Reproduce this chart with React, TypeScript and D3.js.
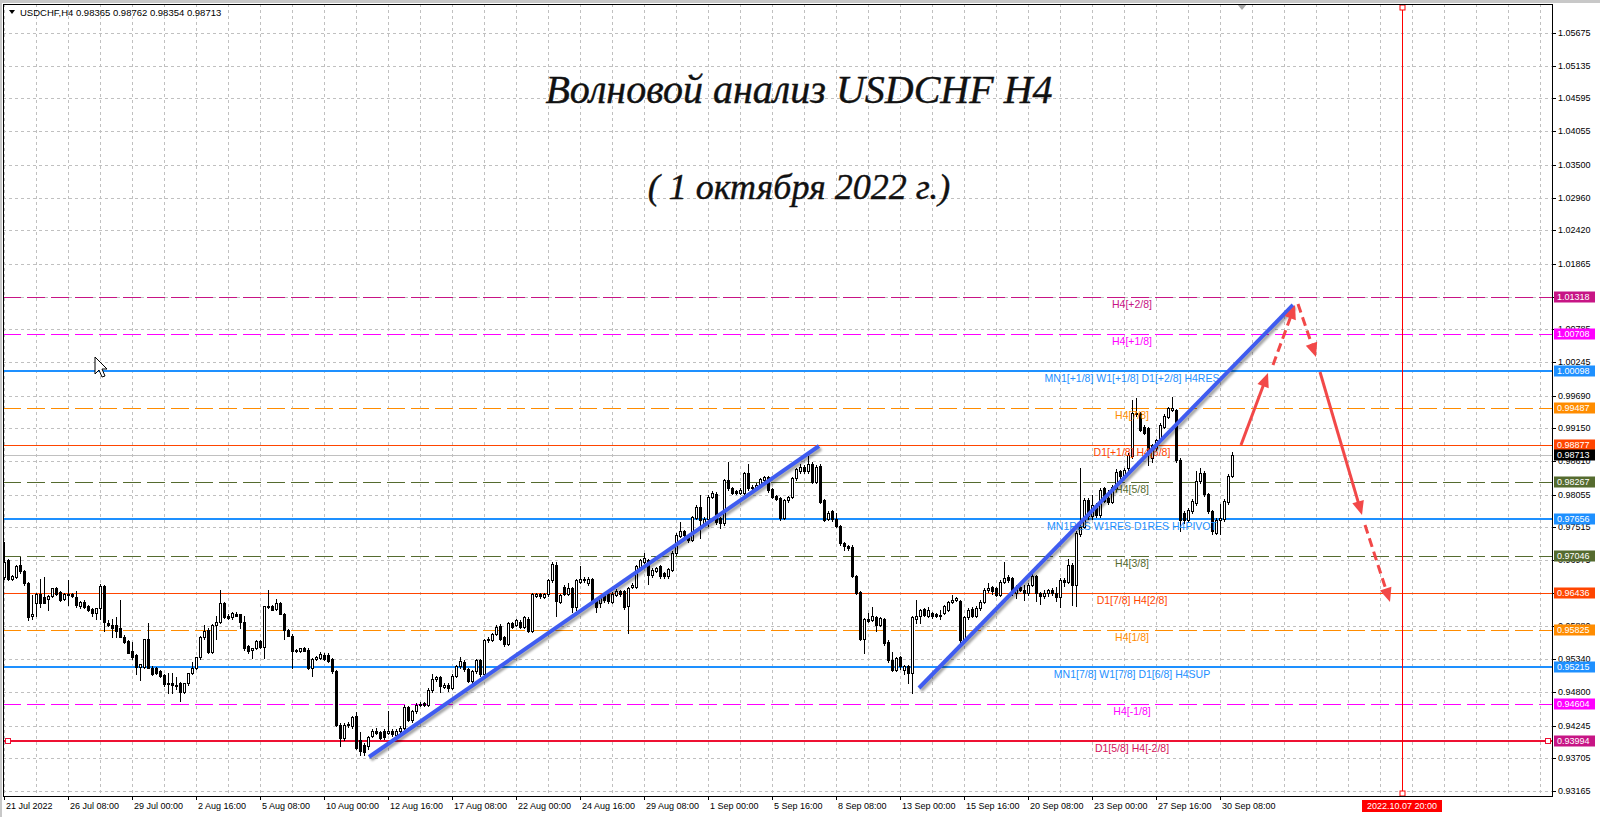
import React from "react";
import * as d3 from "d3";

// ---- Candle data (price x 10000), H4 bars from 21 Jul 2022 16:00 to 30 Sep 2022 20:00
const opens = [
9670,9697,9666,9670,9690,9680,9660,9605,9627,9642,9636,9634,9638,9651,9645,9634,9640,9641,9636,9621,
9629,9622,9617,9610,9618,9655,9594,9591,9590,9586,9571,9564,9547,9541,9521,9521,9567,9520,9519,9515,
9508,9494,9495,9490,9494,9480,9494,9512,9520,9537,9570,9583,9546,9591,9595,9626,9606,9603,9609,9608,
9596,9555,9549,9553,9564,9554,9621,9622,9617,9627,9609,9582,9573,9549,9548,9552,9550,9520,9534,9536,
9541,9541,9534,9515,9426,9404,9426,9423,9441,9400,9393,9390,9407,9416,9414,9416,9412,9415,9409,9415,
9420,9455,9434,9448,9460,9462,9459,9483,9501,9504,9488,9492,9487,9507,9522,9530,9518,9498,9515,9532,
9509,9565,9566,9576,9588,9570,9559,9593,9591,9595,9587,9600,9581,9638,9642,9637,9641,9664,9690,9629,
9654,9642,9652,9620,9662,9667,9659,9666,9631,9626,9640,9642,9629,9640,9646,9647,9621,9654,9654,9687,
9695,9698,9673,9680,9688,9676,9671,9682,9709,9737,9745,9739,9731,9767,9786,9756,9765,9802,9807,9767,
9758,9830,9816,9811,9808,9808,9841,9819,9816,9822,9830,9834,9815,9803,9800,9767,9796,9802,9833,9844,
9852,9844,9857,9827,9853,9796,9765,9779,9765,9754,9726,9721,9720,9671,9645,9568,9601,9599,9603,9590,
9600,9563,9533,9516,9538,9517,9522,9511,9600,9606,9617,9605,9610,9608,9605,9610,9616,9628,9632,9630,
9566,9603,9617,9606,9618,9629,9648,9653,9651,9640,9662,9670,9668,9643,9654,9649,9643,9657,9671,9643,
9638,9643,9649,9643,9637,9665,9661,9690,9657,9740,9753,9797,9770,9789,9772,9816,9800,9794,9815,9844,
9838,9849,9869,9938,9940,9918,9916,9866,9883,9895,9918,9934,9946,9945,9863,9775,9764,9778,9792,9828,
9841,9806,9778,9742,9764,9765,9794,9836.5
];
const highs = [
9727,9700,9673,9690,9703,9682,9661,9640,9643,9667,9669,9640,9652,9653,9646,9643,9664,9643,9646,9630,
9631,9624,9619,9619,9658,9657,9598,9601,9604,9632,9574,9566,9562,9543,9526,9568,9593,9522,9521,9517,
9510,9512,9512,9504,9496,9494,9512,9529,9538,9572,9591,9585,9592,9606,9649,9628,9608,9612,9612,9609,
9605,9557,9552,9565,9566,9622,9648,9623,9634,9629,9611,9584,9575,9551,9553,9554,9552,9536,9540,9546,
9545,9544,9536,9517,9428,9428,9430,9441,9447,9414,9395,9407,9418,9420,9416,9418,9448,9418,9418,9424,
9458,9457,9450,9462,9463,9464,9486,9510,9507,9506,9494,9494,9509,9524,9538,9532,9520,9517,9535,9534,
9568,9571,9578,9590,9592,9572,9595,9596,9600,9598,9606,9603,9644,9644,9644,9643,9667,9694,9694,9642,
9656,9660,9654,9667,9688,9669,9670,9668,9633,9639,9642,9646,9645,9650,9649,9649,9653,9660,9690,9700,
9709,9700,9684,9687,9690,9678,9685,9712,9742,9760,9747,9741,9771,9788,9805,9768,9805,9812,9810,9769,
9831,9860,9818,9813,9816,9843,9856,9821,9824,9833,9836,9836,9817,9805,9802,9799,9804,9835,9850,9856,
9854,9869,9859,9854,9856,9798,9778,9781,9776,9756,9728,9723,9722,9673,9647,9602,9610,9620,9605,9604,
9602,9565,9546,9538,9540,9525,9524,9606,9632,9617,9619,9620,9612,9610,9615,9623,9630,9640,9637,9632,
9605,9618,9620,9622,9632,9652,9660,9655,9653,9664,9695,9673,9670,9656,9660,9657,9660,9679,9673,9645,
9648,9650,9651,9654,9668,9668,9700,9692,9745,9850,9800,9800,9805,9791,9817,9818,9814,9822,9848,9846,
9850,9875,9962,9965,9942,9920,9918,9890,9898,9924,9938,9951,9967,9947,9866,9778,9784,9798,9845,9850,
9845,9808,9780,9767,9790,9798,9840,9876.2
];
const lows = [
9666,9664,9664,9668,9677,9657,9598,9601,9606,9620,9630,9615,9636,9640,9630,9632,9623,9637,9620,9618,
9618,9614,9606,9601,9601,9581,9588,9570,9570,9570,9561,9544,9535,9509,9500,9519,9519,9508,9510,9505,
9490,9479,9479,9485,9465,9478,9492,9510,9518,9535,9568,9545,9544,9567,9593,9602,9600,9601,9605,9585,
9550,9545,9536,9551,9553,9536,9619,9615,9615,9608,9567,9572,9520,9546,9546,9547,9518,9507,9532,9534,
9532,9529,9512,9424,9390,9400,9422,9420,9385,9376,9376,9385,9405,9410,9402,9403,9410,9408,9407,9413,
9418,9432,9430,9446,9456,9457,9457,9480,9498,9480,9486,9482,9485,9505,9520,9514,9496,9494,9512,9506,
9506,9562,9564,9574,9565,9556,9557,9585,9589,9585,9585,9579,9579,9636,9635,9635,9639,9662,9605,9626,
9640,9640,9612,9616,9660,9662,9657,9628,9612,9620,9628,9627,9627,9638,9639,9617,9577,9651,9652,9685,
9693,9658,9670,9678,9668,9668,9668,9679,9706,9735,9736,9728,9729,9765,9734,9754,9754,9800,9757,9750,
9756,9814,9806,9806,9806,9806,9814,9813,9814,9820,9828,9810,9800,9796,9764,9765,9794,9800,9830,9842,
9842,9842,9825,9825,9792,9762,9763,9762,9752,9723,9715,9715,9669,9641,9566,9544,9595,9597,9580,9588,
9558,9530,9514,9514,9518,9510,9494,9478,9594,9594,9605,9603,9602,9603,9600,9608,9614,9626,9630,9555,
9563,9601,9603,9604,9615,9627,9645,9642,9638,9638,9660,9662,9640,9635,9646,9632,9640,9655,9630,9625,
9635,9638,9640,9630,9620,9655,9659,9623,9621,9738,9750,9766,9766,9768,9769,9793,9790,9792,9812,9833,
9836,9847,9866,9936,9910,9905,9855,9860,9880,9893,9916,9932,9943,9860,9745,9758,9760,9775,9789,9825,
9803,9775,9740,9740,9740,9762,9790,9835.4
];
const closes = [
9695,9666,9671,9688,9679,9659,9604,9609,9641,9627,9627,9638,9651,9642,9632,9642,9641,9638,9623,9629,
9620,9615,9610,9619,9655,9596,9591,9585,9580,9571,9562,9545,9537,9521,9526,9567,9520,9510,9512,9507,
9493,9493,9491,9491,9480,9494,9512,9520,9537,9571,9581,9546,9591,9595,9626,9604,9602,9610,9606,9596,
9553,9548,9552,9564,9554,9621,9622,9616,9626,9609,9582,9573,9548,9548,9553,9548,9520,9534,9537,9543,
9534,9531,9515,9426,9404,9426,9427,9438,9387,9382,9381,9405,9415,9412,9404,9405,9416,9410,9416,9421,
9455,9434,9448,9459,9459,9459,9484,9501,9504,9490,9492,9487,9507,9522,9531,9518,9498,9515,9532,9509,
9565,9568,9576,9587,9568,9559,9593,9587,9598,9587,9603,9581,9642,9642,9638,9641,9665,9691,9630,9640,
9642,9652,9620,9665,9667,9665,9666,9630,9620,9637,9631,9630,9642,9646,9641,9620,9651,9657,9688,9698,
9701,9673,9682,9684,9671,9671,9683,9709,9739,9745,9739,9731,9768,9785,9764,9765,9802,9808,9760,9758,
9829,9816,9808,9808,9813,9841,9816,9816,9822,9831,9834,9813,9802,9798,9767,9797,9802,9833,9848,9852,
9844,9857,9827,9852,9794,9764,9776,9765,9754,9725,9721,9717,9671,9643,9568,9600,9597,9605,9590,9602,
9560,9533,9516,9536,9522,9522,9511,9604,9606,9615,9607,9615,9605,9606,9607,9621,9628,9632,9635,9566,
9603,9616,9606,9618,9629,9649,9652,9646,9640,9662,9668,9665,9643,9654,9649,9643,9657,9671,9643,9638,
9643,9648,9643,9637,9665,9661,9690,9657,9742,9753,9797,9770,9789,9772,9814,9795,9794,9819,9843,9836,
9847,9871,9940,9940,9913,9907,9874,9888,9896,9921,9935,9949,9949,9863,9764,9764,9781,9795,9828,9842,
9806,9778,9745,9764,9767,9795,9836,9871.3
];

// ---- Axis labels
const dateLabels = [
  "21 Jul 2022", "26 Jul 08:00", "29 Jul 00:00", "2 Aug 16:00", "5 Aug 08:00",
  "10 Aug 00:00", "12 Aug 16:00", "17 Aug 08:00", "22 Aug 00:00", "24 Aug 16:00",
  "29 Aug 08:00", "1 Sep 00:00", "5 Sep 16:00", "8 Sep 08:00", "13 Sep 00:00",
  "15 Sep 16:00", "20 Sep 08:00", "23 Sep 00:00", "27 Sep 16:00", "30 Sep 08:00",
];
const dateLabelStep = 16;
const gridStep = 8;

// grid lines (every price step) and the labels that stay visible next to the level boxes
const priceTicks = [
  1.05675, 1.05135, 1.04595, 1.04055, 1.035, 1.0296, 1.0242, 1.01865, 1.01325, 1.00785,
  1.00245, 0.9969, 0.9915, 0.9861, 0.98055, 0.97515, 0.96975, 0.96435, 0.9588, 0.9534,
  0.948, 0.94245, 0.93705, 0.93165,
];
const hiddenTickLabels = [1.01325, 0.96435];

// ---- Murrey levels
const levelPrices = [1.01318, 1.00708, 1.00098, 0.99487, 0.98877, 0.98267, 0.97656, 0.97046, 0.96436, 0.95825, 0.95215, 0.94604, 0.93994];
const levelNames = [
  "H4[+2/8]", "H4[+1/8]", "MN1[+1/8] W1[+1/8] D1[+2/8] H4RES", "H4[7/8]", "D1[+1/8] H4[6/8]",
  "H4[5/8]", "MN1RES W1RES D1RES H4PIVOT", "H4[3/8]", "D1[7/8] H4[2/8]", "H4[1/8]",
  "MN1[7/8] W1[7/8] D1[6/8] H4SUP", "H4[-1/8]", "D1[5/8] H4[-2/8]",
];
const bidPrice = 0.98713;
const headerText = "USDCHF,H4  0.98365 0.98762 0.98354 0.98713";
const cursorBar = 349.5;
const cursorLabel = "2022.10.07 20:00";
const levelLabelBar = 282;
const titleLine1 = "Волновой анализ USDCHF H4";
const titleLine2 = "( 1 октября 2022 г.)";

// trend lines [bar1, price1, bar2, price2]
const trendLines = [
  [91.25, 0.93726, 203.75, 0.98859],
  [228.75, 0.94865, 322.25, 1.01186],
];
// forecast arrows [bar1, price1, bar2, price2, dashed]
const forecastArrows: [number, number, number, number, boolean][] = [
  [309.25, 0.98875, 316.0, 1.00064, false],
  [317.25, 1.00196, 322.75, 1.01186, true],
  [323.5, 1.01203, 328.0, 1.00328, true],
  [329.0, 1.0008, 339.5, 0.9772, false],
  [340.25, 0.97555, 346.5, 0.96284, true],
];

// ---- styles
const levelStyles = [
  { stroke: "#c71585", w: 1, dash: "18,6", box: "#c71585", text: "#c71585" },
  { stroke: "#ff00ff", w: 1, dash: "18,6", box: "#ff00ff", text: "#ff00ff" },
  { stroke: "#1e90ff", w: 2, dash: "", box: "#1e90ff", text: "#1e90ff" },
  { stroke: "#ff8c00", w: 1, dash: "18,6", box: "#ff8c00", text: "#ff8c00" },
  { stroke: "#ff4500", w: 1, dash: "", box: "#ff4500", text: "#ff4500" },
  { stroke: "#556b2f", w: 1, dash: "18,6", box: "#556b2f", text: "#556b2f" },
  { stroke: "#1e90ff", w: 2, dash: "", box: "#1e90ff", text: "#1e90ff" },
  { stroke: "#556b2f", w: 1, dash: "18,6", box: "#556b2f", text: "#556b2f" },
  { stroke: "#ff4500", w: 1, dash: "", box: "#ff4500", text: "#ff4500" },
  { stroke: "#ff8c00", w: 1, dash: "18,6", box: "#ff8c00", text: "#ff8c00" },
  { stroke: "#1e90ff", w: 2, dash: "", box: "#1e90ff", text: "#1e90ff" },
  { stroke: "#ff00ff", w: 1, dash: "18,6", box: "#ff00ff", text: "#ff00ff" },
  { stroke: "#ee1133", w: 2, dash: "", box: "#c71585", text: "#d4145a" },
];

const W = 1600;
const H = 817;
const PL = 3, PR = 1552, PT = 4, PB = 796;

export default function App() {
  const x = d3.scaleLinear().domain([0, 387]).range([4, 1552]);
  const y = d3.scaleLinear().domain([0.93165, 1.05675]).range([791, 33]);
  const pv = (v: number) => v / 10000;
  const font = "'Liberation Sans', Arial, sans-serif";

  const vGrid: number[] = [];
  for (let i = 0; x(i) <= PR; i += gridStep) vGrid.push(x(i));

  const arrowHead = (x1: number, y1: number, x2: number, y2: number) => {
    const a = Math.atan2(y2 - y1, x2 - x1);
    const L = 14, Wd = 6;
    const bx = x2 - L * Math.cos(a), by = y2 - L * Math.sin(a);
    const px = -Math.sin(a) * Wd, py = Math.cos(a) * Wd;
    return `${x2},${y2} ${bx + px},${by + py} ${bx - px},${by - py}`;
  };

  const arrowColor = "#f24848";
  const trendColor = "#3f5cf0";

  return (
    <svg width={W} height={H} style={{ display: "block", background: "#fff" }} fontFamily={font}>
      <style>{`body{margin:0;background:#fff}`}</style>
      <defs>
        <clipPath id="plot">
          <rect x={PL} y={PT} width={PR - PL} height={PB - PT} />
        </clipPath>
        <filter id="blur" x="-10%" y="-10%" width="120%" height="120%">
          <feGaussianBlur stdDeviation="1.2" />
        </filter>
      </defs>
      <rect x={0} y={0} width={W} height={3} fill="#c8c8c8" />
      <rect x={0} y={0} width={2} height={H} fill="#c8c8c8" />

      <g clipPath="url(#plot)">
        {/* grid */}
        {priceTicks.map((t, k) => (
          <line key={"hg" + k} x1={PL} x2={PR} y1={Math.round(y(t)) + 0.5} y2={Math.round(y(t)) + 0.5}
            stroke="#c0c0c0" strokeDasharray="3,3" />
        ))}
        {vGrid.map((gx, k) => (
          <line key={"vg" + k} x1={gx + 0.5} x2={gx + 0.5} y1={PT} y2={PB} stroke="#c0c0c0" strokeDasharray="3,3" />
        ))}

        {/* bid line */}
        <line x1={PL} x2={PR} y1={Math.round(y(bidPrice)) + 0.5} y2={Math.round(y(bidPrice)) + 0.5} stroke="#c0c0c0" />

        {/* levels */}
        {levelPrices.map((p, k) => {
          const s = levelStyles[k];
          const ly = Math.round(y(p)) + (s.w === 1 ? 0.5 : 0);
          return (
            <line key={"lv" + k} x1={PL} x2={PR} y1={ly} y2={ly} stroke={s.stroke} strokeWidth={s.w}
              strokeDasharray={s.dash || undefined} />
          );
        })}

        {/* candles */}
        {closes.map((c, i) => {
          const o = opens[i], h = highs[i], l = lows[i];
          const cx = Math.round(x(i));
          const bull = c >= o;
          const yt = Math.round(y(pv(Math.max(o, c))));
          const yb = Math.round(y(pv(Math.min(o, c))));
          return (
            <g key={"c" + i}>
              <line x1={cx + 0.5} x2={cx + 0.5} y1={Math.round(y(pv(h)))} y2={Math.round(y(pv(l))) + 1} stroke="#000" />
              {bull ? (
                <rect x={cx - 0.5} y={yt + 0.5} width={2} height={Math.max(yb - yt, 1)} fill="#fff" stroke="#000" />
              ) : (
                <rect x={cx - 1} y={yt} width={3} height={Math.max(yb - yt + 1, 1)} fill="#000" />
              )}
            </g>
          );
        })}

        {/* level labels */}
        {levelPrices.map((p, k) => (
          <text key={"lt" + k} x={x(levelLabelBar)} y={y(p) + 11.5} textAnchor="middle" fontSize={10.5}
            fill={levelStyles[k].text}>{levelNames[k]}</text>
        ))}

        {/* trend lines */}
        {trendLines.map((t, k) => (
          <g key={"tl" + k}>
            <line x1={x(t[0]) + 2} y1={y(t[1]) + 2.5} x2={x(t[2]) + 2} y2={y(t[3]) + 2.5}
              stroke="rgba(0,0,0,0.35)" strokeWidth={4} filter="url(#blur)" />
            <line x1={x(t[0])} y1={y(t[1])} x2={x(t[2])} y2={y(t[3])} stroke={trendColor} strokeWidth={4} />
          </g>
        ))}

        {/* forecast arrows */}
        {forecastArrows.map((a, k) => {
          const x1 = x(a[0]), y1 = y(a[1]), x2 = x(a[2]), y2 = y(a[3]);
          const ang = Math.atan2(y2 - y1, x2 - x1);
          const ex = x2 - 10 * Math.cos(ang), ey = y2 - 10 * Math.sin(ang);
          return (
            <g key={"fa" + k}>
              <line x1={x1} y1={y1} x2={ex} y2={ey} stroke={arrowColor} strokeWidth={3}
                strokeDasharray={a[4] ? "9,5" : undefined} />
              <polygon points={arrowHead(x1, y1, x2, y2)} fill={arrowColor} />
            </g>
          );
        })}

        {/* cursor vertical line */}
        <line x1={Math.round(x(cursorBar)) + 0.5} x2={Math.round(x(cursorBar)) + 0.5} y1={PT} y2={PB} stroke="#ff0000" />
        <rect x={Math.round(x(cursorBar)) - 2} y={PT + 1} width={5} height={5} fill="#fff" stroke="#ff0000" />
        <rect x={Math.round(x(cursorBar)) - 2} y={PB - 5} width={5} height={5} fill="#fff" stroke="#ff0000" />
        {/* line anchors */}
        <rect x={5.5} y={Math.round(y(levelPrices[12])) - 2.5} width={5} height={5} fill="#fff" stroke="#ee1133" />
        <rect x={PR - 6.5} y={Math.round(y(levelPrices[12])) - 2.5} width={5} height={5} fill="#fff" stroke="#ee1133" />

        {/* titles */}
        <text x={799} y={103} textAnchor="middle" fontFamily="'Liberation Serif', serif" fontStyle="italic"
          fontSize={40} fill="#111" stroke="#111" strokeWidth={0.4}>{titleLine1}</text>
        <text x={799} y={199} textAnchor="middle" fontFamily="'Liberation Serif', serif" fontStyle="italic"
          fontSize={36} fill="#111" stroke="#111" strokeWidth={0.4}>{titleLine2}</text>

        {/* header */}
        <polygon points="9,10 15,10 12,14" fill="#000" />
        <text x={20} y={16} fontSize={9.5} fill="#000">{headerText}</text>

        {/* chart shift marker */}
        <polygon points="1237,4 1247,4 1242,10" fill="#a8a8a8" />

        {/* mouse cursor */}
        <polygon points="95,357 95,374 99,370 102,377 105,376 102,369 107,369" fill="#fff" stroke="#000" strokeWidth={1} />
      </g>

      {/* plot border */}
      <rect x={PL + 0.5} y={PT + 0.5} width={PR - PL} height={PB - PT} fill="none" stroke="#000" />

      {/* right axis */}
      {priceTicks.map((t, k) => (
        <g key={"pt" + k}>
          <line x1={PR} x2={PR + 4} y1={Math.round(y(t)) + 0.5} y2={Math.round(y(t)) + 0.5} stroke="#000" />
          {hiddenTickLabels.indexOf(t) < 0 && (
            <text x={1558} y={y(t)} dominantBaseline="central" fontSize={9} fill="#000">{t.toFixed(5)}</text>
          )}
        </g>
      ))}
      {levelPrices.map((p, k) => (
        <g key={"lb" + k}>
          <rect x={1554} y={Math.round(y(p)) - 5.5} width={41} height={11} fill={levelStyles[k].box} />
          <text x={1557} y={y(p)} dominantBaseline="central" fontSize={9} fill="#fff">{p.toFixed(5)}</text>
        </g>
      ))}
      <rect x={1554} y={Math.round(y(bidPrice)) - 5.5} width={41} height={11} fill="#000" />
      <text x={1557} y={y(bidPrice)} dominantBaseline="central" fontSize={9} fill="#fff">{bidPrice.toFixed(5)}</text>

      {/* bottom axis */}
      {dateLabels.map((d, k) => {
        const tx = Math.round(x(k * dateLabelStep));
        return (
          <g key={"dl" + k}>
            <line x1={tx + 0.5} x2={tx + 0.5} y1={PB} y2={PB + 4} stroke="#000" />
            <text x={tx + 2} y={806} dominantBaseline="central" fontSize={9} fill="#000">{d}</text>
          </g>
        );
      })}
      <rect x={Math.round(x(cursorBar)) - 40} y={800} width={80} height={12} fill="#ff0000" />
      <text x={Math.round(x(cursorBar))} y={806} textAnchor="middle" dominantBaseline="central" fontSize={9} fill="#fff">{cursorLabel}</text>
    </svg>
  );
}
